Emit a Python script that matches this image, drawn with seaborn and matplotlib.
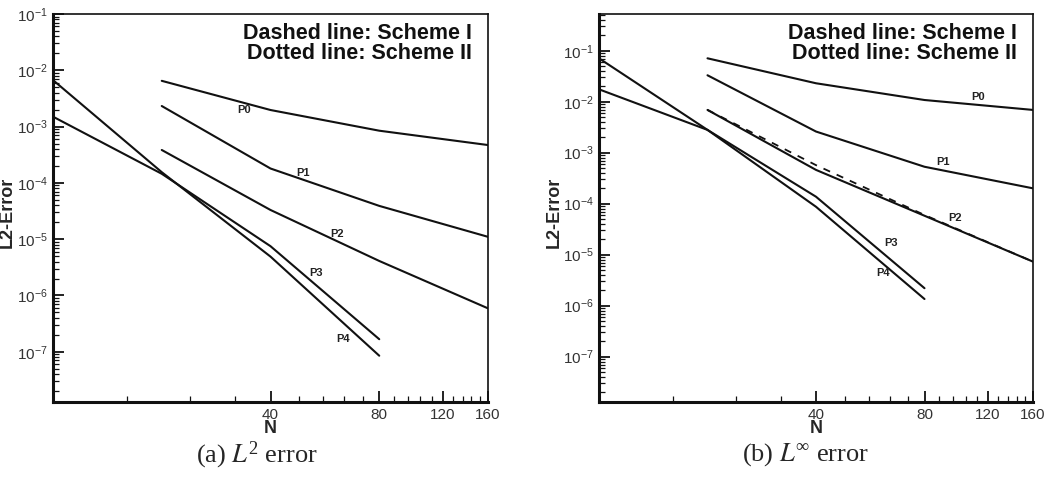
import numpy as np
import pandas as pd
import matplotlib
matplotlib.use("Agg")
import matplotlib.pyplot as plt
import matplotlib.ticker as mticker
import seaborn as sns

# ---------------- data ----------------
N_coarse = [10, 20, 40, 80]          # P3, P4 meshes
N_fine = [20, 40, 80, 160]           # P0, P1, P2 meshes
series_names = ["P0", "P1", "P2", "P3", "P4"]

# (a) L2 error, Scheme II (dotted)
l2_P0 = [6.5e-3, 1.97e-3, 8.45e-4, 4.7e-4]
l2_P1 = [2.32e-3, 1.8e-4, 3.9e-5, 1.1e-5]
l2_P2 = [3.84e-4, 3.3e-5, 4.1e-6, 5.9e-7]
l2_P3 = [1.5e-3, 1.45e-4, 7.5e-6, 1.67e-7]
l2_P4 = [6.7e-3, 1.55e-4, 4.9e-6, 8.5e-8]

# (b) Linf error, Scheme II (dotted)
li_P0 = [7.1e-2, 2.3e-2, 1.08e-2, 6.9e-3]
li_P1 = [3.3e-2, 2.6e-3, 5.3e-4, 2.0e-4]
li_P2 = [6.9e-3, 4.6e-4, 5.8e-5, 7.3e-6]
li_P3 = [1.75e-2, 2.8e-3, 1.37e-4, 2.2e-6]
li_P4 = [7.1e-2, 2.8e-3, 8.7e-5, 1.35e-6]

# Scheme I (dashed) differs visibly only for P2 in the Linf plot
li_P2_scheme1 = [6.9e-3, 5.7e-4, 6.0e-5, 7.3e-6]

x_tick_values = [40, 80, 120, 160]
x_tick_labels = ["40", "80", "120", "160"]
legend_lines = ["Dashed line: Scheme I", "Dotted line: Scheme II"]
captions = [r"(a) $\mathit{L}^2$ error", r"(b) $\mathit{L}^{\infty}$ error"]
y_label = "L2-Error"
x_label = "N"

# ---------------- style ----------------
sns.set_theme(style="white")
plt.rcParams["font.family"] = ["Liberation Sans", "DejaVu Sans"]
plt.rcParams["mathtext.default"] = "regular"

fig = plt.figure(figsize=(10.45, 4.78), dpi=100)
W, H = 1045, 478


def make_axes(x0, x1, y0, y1):
    return fig.add_axes([x0 / W, 1 - y1 / H, (x1 - x0) / W, (y1 - y0) / H])


ax_a = make_axes(53, 488, 14, 402)
ax_b = make_axes(599, 1033, 14, 402)


def build_df(vals):
    rows = []
    for name, arr in zip(series_names, vals):
        xs = N_fine if name in ("P0", "P1", "P2") else N_coarse
        for x, y in zip(xs, arr):
            rows.append({"N": x, "err": y, "series": name})
    return pd.DataFrame(rows)


df_a = build_df([l2_P0, l2_P1, l2_P2, l2_P3, l2_P4])
df_b = build_df([li_P0, li_P1, li_P2, li_P3, li_P4])
df_b1 = pd.DataFrame({"N": N_fine, "err": li_P2_scheme1})

for ax, df in ((ax_a, df_a), (ax_b, df_b)):
    for name in series_names:
        sub = df[df["series"] == name]
        sns.lineplot(data=sub, x="N", y="err", ax=ax, color="#111111",
                     linewidth=1.5, legend=False, sort=False)

sns.lineplot(data=df_b1, x="N", y="err", ax=ax_b, color="#111111",
             linewidth=1.3, linestyle=(0, (4, 4)), legend=False, sort=False)

minor_x = [v for v in range(16, 161, 8) if v not in x_tick_values]

for ax, ylims, lab_x in ((ax_a, (1.28e-8, 1e-1), -0.085), (ax_b, (1.29e-8, 0.525), -0.083)):
    ax.set_xscale("log")
    ax.set_yscale("log")
    ax.set_xlim(10, 160)
    ax.set_ylim(*ylims)
    ax.xaxis.set_major_locator(mticker.FixedLocator(x_tick_values))
    ax.xaxis.set_major_formatter(mticker.FixedFormatter(x_tick_labels))
    ax.xaxis.set_minor_locator(mticker.FixedLocator(minor_x))
    ax.xaxis.set_minor_formatter(mticker.NullFormatter())
    ax.yaxis.set_major_locator(mticker.LogLocator(base=10, numticks=20))
    ax.yaxis.set_minor_locator(mticker.LogLocator(base=10, subs=np.arange(2, 10), numticks=20))
    ax.yaxis.set_minor_formatter(mticker.NullFormatter())
    ax.tick_params(which="both", direction="in", left=True, bottom=True,
                   right=False, top=False, colors="#111111", labelcolor="#333333")
    ax.tick_params(which="major", length=8, width=1.3, labelsize=11, pad=4)
    ax.tick_params(which="minor", length=4, width=0.9)
    for s in ("left", "bottom"):
        ax.spines[s].set_linewidth(2.2)
    for s in ("top", "right"):
        ax.spines[s].set_linewidth(1.2)
    for s in ax.spines.values():
        s.set_color("#111111")
        s.set_visible(True)
    ax.set_xlabel(x_label, fontsize=13, fontweight="bold", labelpad=-1)
    ax.set_ylabel(y_label, fontsize=13, fontweight="bold")
    ax.yaxis.set_label_coords(lab_x, 0.49)
    ax.grid(False)
    ax.text(0.963, 0.950, legend_lines[0], transform=ax.transAxes, ha="right",
            va="center", fontsize=15.5, fontweight="bold", color="#111111")
    ax.text(0.963, 0.898, legend_lines[1], transform=ax.transAxes, ha="right",
            va="center", fontsize=15.5, fontweight="bold", color="#111111")

labels_a = {"P0": (33.9, 1.97e-3), "P1": (49.3, 1.5e-4), "P2": (61.3, 1.24e-5),
            "P3": (53.6, 2.5e-6), "P4": (63.6, 1.69e-7)}
labels_b = {"P0": (112.6, 1.24e-2), "P1": (90.0, 6.7e-4), "P2": (97.2, 5.2e-5),
            "P3": (64.5, 1.67e-5), "P4": (61.3, 4.3e-6)}
for ax, labs in ((ax_a, labels_a), (ax_b, labels_b)):
    for name, (x, y) in labs.items():
        ax.text(x, y, name, ha="center", va="center", fontsize=8,
                fontweight="bold", color="#222222")

fig.text(257 / W, 1 - 455 / H, captions[0], ha="center", va="center",
         fontsize=19, family="Liberation Serif", math_fontfamily="stix")
fig.text(806 / W, 1 - 455 / H, captions[1], ha="center", va="center",
         fontsize=19, family="Liberation Serif", math_fontfamily="stix")

fig.savefig("out.png", dpi=100)
